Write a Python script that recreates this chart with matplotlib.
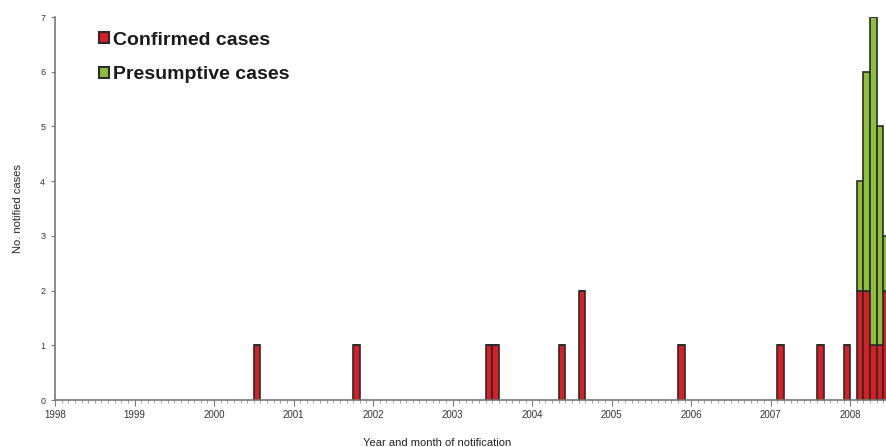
import numpy as np
import matplotlib
matplotlib.use("Agg")
import matplotlib.pyplot as plt
from matplotlib.patches import Patch

# notification month (year-month) and counts
months = ['2000-07', '2001-10', '2003-06', '2003-07', '2004-05', '2004-08',
          '2005-11', '2007-02', '2007-08', '2007-12',
          '2008-02', '2008-03', '2008-04', '2008-05', '2008-06']
confirmed = [1, 1, 1, 1, 1, 2, 1, 1, 1, 1, 2, 2, 1, 1, 2]
presumptive = [0, 0, 0, 0, 0, 0, 0, 0, 0, 0, 2, 4, 6, 4, 1]
years = list(range(1998, 2009))

red = '#d81f26'
green = '#8dbf3b'
edge = '#2a2a2a'

# months counted from Jan 1998
idx = np.array([(int(m[:4]) - 1998) * 12 + int(m[5:]) - 1 for m in months])
x = idx + 0.5
confirmed = np.array(confirmed)
presumptive = np.array(presumptive)

plt.rcParams['font.family'] = ['Liberation Sans', 'DejaVu Sans']

fig = plt.figure(figsize=(8.86, 4.47), dpi=100)
ax = fig.add_axes([55 / 886, 47 / 447, 1 - 55 / 886, 383 / 447])

ax.bar(x, confirmed, width=1.0, color=red, edgecolor=edge, linewidth=1.2)
ax.bar(x, presumptive, width=1.0, bottom=confirmed, color=green,
       edgecolor=edge, linewidth=1.2)

ax.set_xlim(0, 125.4)
ax.set_ylim(0, 7)

ax.set_xticks([(y - 1998) * 12 for y in years])
ax.set_xticklabels([str(y) for y in years], fontsize=7, color='#333333')
ax.set_xticks(np.arange(0, 126), minor=True)
ax.set_yticks(range(0, 8))
ax.set_yticklabels([str(v) for v in range(0, 8)], fontsize=6.5, color='#333333')

ax.tick_params(axis='x', which='major', length=4, width=0.8, color='#777777', pad=3)
ax.tick_params(axis='x', which='minor', length=2.5, width=0.7, color='#999999')
ax.tick_params(axis='y', length=3, width=0.8, color='#777777', pad=4)

for s in ['top', 'right']:
    ax.spines[s].set_visible(False)
for s in ['left', 'bottom']:
    ax.spines[s].set_color('#777777')
    ax.spines[s].set_linewidth(1.2)

ax.set_ylabel('No. notified cases', fontsize=8, color='#222222', labelpad=12)
ax.set_xlabel('Year and month of notification', fontsize=8, color='#222222')
ax.xaxis.set_label_coords((437 - 55) / 831, -0.098)

handles = [Patch(facecolor=red, edgecolor=edge, linewidth=1.5, label='Confirmed cases'),
           Patch(facecolor=green, edgecolor=edge, linewidth=1.5, label='Presumptive cases')]
leg = ax.legend(handles=handles, loc='upper left', bbox_to_anchor=(0.044, 0.982),
                borderaxespad=0, frameon=False, handlelength=0.5, handleheight=0.5,
                handletextpad=0.2, labelspacing=0.9,
                prop={'weight': 'bold', 'size': 14})
for t in leg.get_texts():
    t.set_color('#1a1a1a')

fig.savefig('out.png', dpi=100)
